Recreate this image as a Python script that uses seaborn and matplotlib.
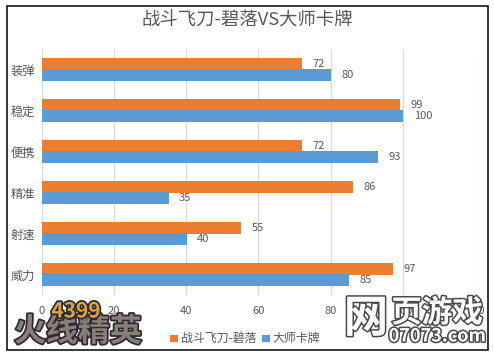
# -*- coding: utf-8 -*-
import matplotlib
matplotlib.use("Agg")
import matplotlib.pyplot as plt
import matplotlib.patheffects as pe
from matplotlib.patches import Rectangle
import pandas as pd
import seaborn as sns

CATEGORIES = ["装弹", "稳定", "便携", "精准", "射速", "威力"]
SERIES_A = [72, 99, 72, 86, 55, 97]
SERIES_B = [80, 100, 93, 35, 40, 85]
NAME_A = "战斗飞刀-碧落"
NAME_B = "大师卡牌"
X_TICKS = [0, 20, 40, 60, 80, 100, 120]
TITLE = "战斗飞刀-碧落VS大师卡牌"

ORANGE = "#ED7D31"
BLUE = "#5B9BD5"
TEXT = "#595959"

W, H = 494, 356

sns.set_theme(style="white")
plt.rcParams["font.family"] = ["Noto Sans CJK SC", "DejaVu Sans"]

df = pd.DataFrame({
    "cat": CATEGORIES * 2,
    "value": SERIES_A + SERIES_B,
    "series": [NAME_A] * len(SERIES_A) + [NAME_B] * len(SERIES_B),
})

fig = plt.figure(figsize=(W / 100, H / 100), dpi=100, facecolor="white")
ax = fig.add_axes([41.5 / W, 1 - 295 / H, (475.3 - 41.5) / W, (295 - 49) / H])

sns.barplot(
    data=df, y="cat", x="value", hue="series", order=CATEGORIES,
    palette=[ORANGE, BLUE], width=0.52, gap=0, dodge=True, ax=ax,
    saturation=1, legend=False, errorbar=None, zorder=3,
    linewidth=0, edgecolor="none",
)

for container in ax.containers:
    for bar in container:
        bar.set_snap(False)
        bar.set_antialiased(False)  # no light seam where the two bars touch
    ax.bar_label(container, padding=8, fontsize=8, color=TEXT)

ax.set_xlim(0, 120)
ax.set_ylim(5.5, -0.5)
ax.set_xticks(X_TICKS)
ax.set_xlabel("")
ax.set_ylabel("")
ax.grid(axis="x", color="#D9D9D9", linewidth=0.8, zorder=0)
ax.set_axisbelow(True)
sns.despine(ax=ax, top=True, right=True, bottom=True, left=True)
ax.tick_params(axis="x", length=0, labelsize=8, labelcolor=TEXT, pad=8)
ax.tick_params(axis="y", length=0, labelsize=8.8, labelcolor=TEXT, pad=4.5)

# outer frame of the picture
fig.add_artist(Rectangle((6.5 / W, 1 - 350 / H), 481 / W, 344 / H, transform=fig.transFigure,
                         fill=False, edgecolor="black", linewidth=1.1))

fig.text(247 / W, 1 - 21 / H, TITLE, fontsize=13.2, color=TEXT, ha="center", va="center")

# legend
fig.add_artist(Rectangle((170 / W, 1 - 342 / H), 7.5 / W, 7.5 / H, transform=fig.transFigure,
                         facecolor=ORANGE, edgecolor="none"))
fig.text(180.5 / W, 1 - 338.5 / H, NAME_A, fontsize=8.6, color=TEXT, va="center")
fig.add_artist(Rectangle((262 / W, 1 - 342 / H), 7.5 / W, 7.5 / H, transform=fig.transFigure,
                         facecolor=BLUE, edgecolor="none"))
fig.text(272 / W, 1 - 338.5 / H, NAME_B, fontsize=8.6, color=TEXT, va="center")

# watermarks
dark = [pe.withStroke(linewidth=2.5, foreground="#2A2A30")]
fig.text(78 / W, 1 - 332 / H, "火线精英", fontsize=23, fontweight="bold", color="#8A7F78",
         ha="center", va="center", path_effects=dark, zorder=5)
fig.text(76 / W, 1 - 311 / H, "4399", fontsize=15, fontweight="bold", color="#D9A441",
         ha="center", va="center", path_effects=dark, zorder=6)

light = [pe.withStroke(linewidth=2.2, foreground="#4A4A4A")]
fig.text(366 / W, 1 - 319 / H, "网", fontsize=32, fontweight="bold", color="white",
         ha="center", va="center", path_effects=light)
fig.text(437 / W, 1 - 313 / H, "页游戏", fontsize=22, fontweight="bold", color="white",
         ha="center", va="center", path_effects=light)
fig.text(437 / W, 1 - 336 / H, "07073.com", fontsize=13, fontweight="bold", color="white",
         ha="center", va="center", path_effects=light)

fig.savefig("out.png", dpi=100)
